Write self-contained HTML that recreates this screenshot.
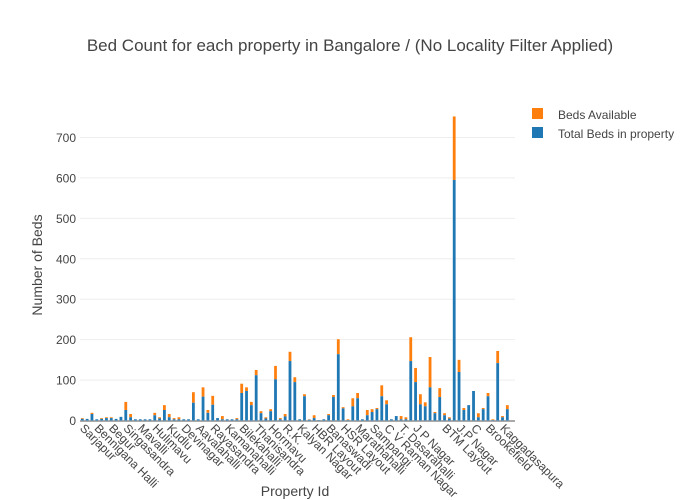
<!DOCTYPE html>
<html><head><meta charset="utf-8"><style>
body{margin:0;background:#fff}
svg{display:block;font-family:"Liberation Sans",sans-serif}
</style></head><body>
<svg id="s" width="700" height="500" xmlns="http://www.w3.org/2000/svg">
<rect width="700" height="500" fill="#fff"/>
<g id="grid" stroke="#eee" stroke-width="1"></g>
<line x1="80" y1="421" x2="515" y2="421" stroke="#aaa" stroke-width="2"/>
<g id="bars"></g>
<g fill="#444" font-size="12" text-anchor="end">
<text x="76" y="425">0</text><text x="76" y="384.6">100</text><text x="76" y="344.1">200</text>
<text x="76" y="303.7">300</text><text x="76" y="263.3">400</text><text x="76" y="222.9">500</text>
<text x="76" y="182.4">600</text><text x="76" y="142">700</text>
</g>
<g id="xl" fill="#444" font-size="12"></g>
<text x="350" y="51" font-size="17" fill="#444" text-anchor="middle">Bed Count for each property in Bangalore / (No Locality Filter Applied)</text>
<text x="295" y="496" font-size="14" fill="#444" text-anchor="middle">Property Id</text>
<text transform="translate(42,265) rotate(-90)" font-size="14" fill="#444" text-anchor="middle">Number of Beds</text>
<rect x="532" y="108" width="11" height="11" fill="#ff7f0e"/>
<text x="558" y="119" font-size="12" fill="#444">Beds Available</text>
<rect x="532" y="127" width="11" height="11" fill="#1f77b4"/>
<text x="558" y="138" font-size="12" fill="#444">Total Beds in property</text>
</svg>
<script>
var NS="http://www.w3.org/2000/svg";
function el(p,t,a,txt){var e=document.createElementNS(NS,t);for(var k in a)e.setAttribute(k,a[k]);if(txt)e.textContent=txt;p.appendChild(e);return e;}
var g=document.getElementById("grid");
for(var i=1;i<=7;i++){var y=420.5-i*40.43;el(g,"line",{x1:80,x2:515,y1:y,y2:y});}
var d=[[6,4],[4,4],[19,16],[3,3],[6,4],[8,6],[8,6],[4,4],[9,9],[46,26],[16,8],[3,3],[3,3],[3,3],[3,3],[19,13],[8,5],[38,26],[16,8],[6,3],[8,3],[3,3],[3,3],[70,44],[3,3],[82,59],[26,19],[61,39],[6,6],[11,3],
[3,3],[3,3],[6,3],[91,68],[82,73],[46,38],[125,112],[23,18],[8,5],[28,23],[135,102],[6,3],[16,10],[170,147],[107,95],[3,3],[65,60],[3,2],[13,6],[1,1],[3,3],[16,13],[63,58],[201,164],[33,30],[3,1],[55,35],[68,55],[3,3],[26,13],
[28,21],[31,28],[87,60],[50,40],[3,3],[11,11],[11,3],[8,3],[206,147],[130,95],[65,40],[45,35],[157,82],[21,18],[80,58],[18,13],[8,5],[752,595],[150,120],[31,26],[38,38],[73,73],[18,8],[31,28],[68,60],[3,1],[172,142],[11,8],[38,28]];
var b=document.getElementById("bars"),k=0.4043;
d.forEach(function(v,i){var cx=82.3+i*4.83,x=cx-1.4,w=2.8;
var hb=v[1]*k,ht=v[0]*k;
el(b,"rect",{x:x,y:420.5-ht,width:w,height:ht-hb,fill:"#ff7f0e"});
el(b,"rect",{x:x,y:420.5-hb,width:w,height:hb,fill:"#1f77b4"});});
var L=["Sarjapur","Bennigana Halli","Begur","Singasandra","Mavalli","Hulimavu","Kudlu","Devinagar","Aavalahalli","Rayasandra","Kamanahalli","Bilekahalli","Thanisandra","Hormavu","R.K.","Kalyan Nagar","HBR Layout","Banaswadi","HSR Layout","Marathahalli","Sampangi","C V Raman Nagar","T. Dasarahalli","J P Nagar","","BTM Layout","J.P Nagar","C","Brookefield","Kaggadasapura"];
var xl=document.getElementById("xl");
L.forEach(function(t,j){var x=82.3+j*3*4.83-3;el(xl,"text",{transform:"translate("+x+",429) rotate(45)"},t);});
</script>
</body></html>
